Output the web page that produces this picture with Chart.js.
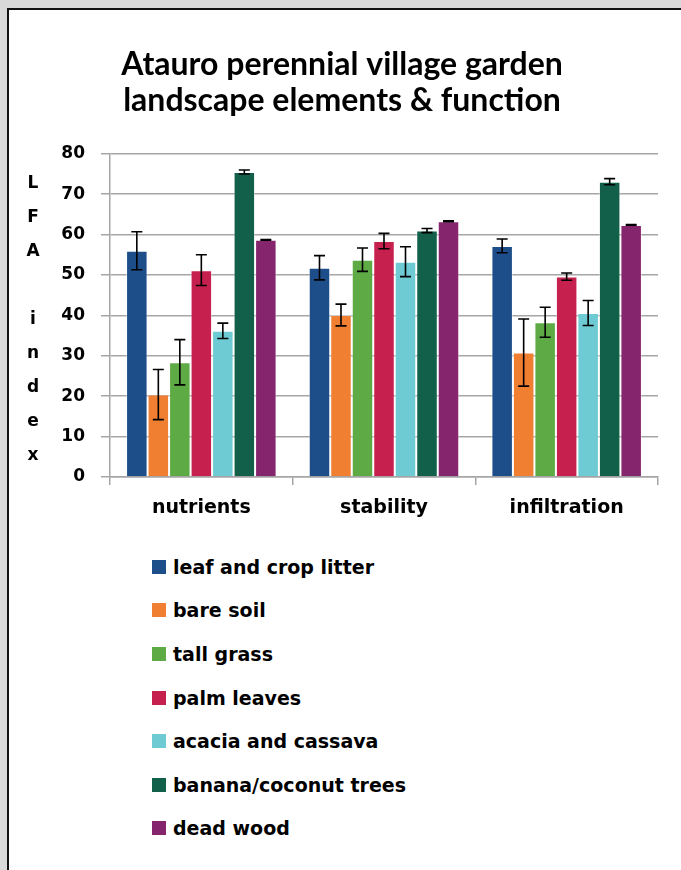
<!DOCTYPE html>
<html lang="en">
<head>
<meta charset="UTF-8">
<title>Atauro perennial village garden landscape elements &amp; function</title>
<script src="https://cdn.jsdelivr.net/npm/chart.js@4.4.0/dist/chart.umd.min.js"></script>
<style>
  body {
    margin: 0;
    width: 681px;
    height: 870px;
    overflow: hidden;
    position: relative;
    background: #d9d9d9;
    font-family: "DejaVu Sans", sans-serif;
  }
  .panel {
    position: absolute;
    left: 7px;
    top: 8px;
    width: 720px;
    height: 900px;
    background: #fff;
    border-left: 2px solid #111;
    border-top: 2px solid #111;
  }
  .chart-box {
    position: absolute;
    left: 0;
    top: 0;
    width: 681px;
    height: 530px;
  }
  #legend {
    position: absolute;
    left: 152px;
    top: 545px;
    margin: 0;
    padding: 0;
    list-style: none;
  }
  #legend li {
    height: 43.6px;
    display: flex;
    align-items: center;
    font-size: 19px;
    font-weight: bold;
    color: #000;
  }
  #legend .swatch {
    width: 14px;
    height: 14px;
    margin-right: 7px;
  }
</style>
</head>
<body>
  <div class="panel"></div>
  <div class="chart-box"><canvas id="myChart" width="681" height="530"></canvas></div>
  <ul id="legend"></ul>

<script>
  // chart data
  var titleLines = ['Atauro perennial village garden', 'landscape elements & function'];
  var yTitleLetters = ['L', 'F', 'A', '', 'i', 'n', 'd', 'e', 'x'];
  var categories = ['nutrients', 'stability', 'infiltration'];
  var yTicks = [0, 10, 20, 30, 40, 50, 60, 70, 80];

  var seriesNames = ['leaf and crop litter', 'bare soil', 'tall grass', 'palm leaves',
                     'acacia and cassava', 'banana/coconut trees', 'dead wood'];
  var seriesColors = ['#1d4e89', '#f07f31', '#5eab46', '#c6214e', '#6ecbd3', '#125f4a', '#85256e'];

  var leafLitter = [56.0, 51.8, 57.2];
  var bareSoil   = [20.4, 40.1, 30.8];
  var tallGrass  = [28.4, 53.8, 38.3];
  var palmLeaves = [51.2, 58.4, 49.6];
  var acacia     = [36.2, 53.3, 40.6];
  var banana     = [75.5, 61.0, 73.1];
  var deadWood   = [58.7, 63.3, 62.4];

  var leafLitterErr = [4.7, 3.0, 1.7];
  var bareSoilErr   = [6.2, 2.7, 8.3];
  var tallGrassErr  = [5.6, 2.9, 3.7];
  var palmLeavesErr = [3.8, 1.9, 0.9];
  var acaciaErr     = [1.9, 3.7, 3.1];
  var bananaErr     = [0.5, 0.5, 0.75];
  var deadWoodErr   = [0.1, 0.1, 0.1];

  var seriesValues = [leafLitter, bareSoil, tallGrass, palmLeaves, acacia, banana, deadWood];
  var seriesErrors = [leafLitterErr, bareSoilErr, tallGrassErr, palmLeavesErr, acaciaErr, bananaErr, deadWoodErr];

  var gridColor = '#a6a6a6';
  var labelFont = '"DejaVu Sans", sans-serif';
  var titleFont = 'Lato, "Open Sans", sans-serif';

  var datasets = [];
  for (var i = 0; i < seriesNames.length; i++) {
    datasets.push({
      label: seriesNames[i],
      data: seriesValues[i],
      backgroundColor: seriesColors[i],
      borderColor: 'rgba(255,255,255,0.45)',
      borderWidth: 1,
      categoryPercentage: 0.824,
      barPercentage: 1.0
    });
  }

  // error bars drawn from the bar elements and the y scale
  var errorBars = {
    id: 'errorBars',
    afterDatasetsDraw: function (chart) {
      var ctx = chart.ctx;
      var yScale = chart.scales.y;
      ctx.save();
      ctx.strokeStyle = '#000';
      ctx.lineWidth = 1.6;
      for (var d = 0; d < chart.data.datasets.length; d++) {
        var meta = chart.getDatasetMeta(d);
        for (var i = 0; i < meta.data.length; i++) {
          var bar = meta.data[i];
          var v = seriesValues[d][i];
          var e = seriesErrors[d][i];
          var top = yScale.getPixelForValue(v + e);
          var bot = yScale.getPixelForValue(v - e);
          var cap = 5.5;
          ctx.beginPath();
          ctx.moveTo(bar.x, top);
          ctx.lineTo(bar.x, bot);
          ctx.moveTo(bar.x - cap, top);
          ctx.lineTo(bar.x + cap, top);
          ctx.moveTo(bar.x - cap, bot);
          ctx.lineTo(bar.x + cap, bot);
          ctx.stroke();
        }
      }
      ctx.restore();
    }
  };

  // stacked y axis title, one letter per line
  var stackedYTitle = {
    id: 'stackedYTitle',
    afterDraw: function (chart) {
      var ctx = chart.ctx;
      var area = chart.chartArea;
      var step = 34;
      var mid = (area.top + area.bottom) / 2 + 4;
      var start = mid - step * (yTitleLetters.length - 1) / 2;
      ctx.save();
      ctx.fillStyle = '#000';
      ctx.font = 'bold 17px ' + labelFont;
      ctx.textAlign = 'center';
      ctx.textBaseline = 'middle';
      for (var i = 0; i < yTitleLetters.length; i++) {
        ctx.fillText(yTitleLetters[i], 33, start + i * step);
      }
      ctx.restore();
    }
  };

  var ctx = document.getElementById('myChart').getContext('2d');
  var myChart = new Chart(ctx, {
    type: 'bar',
    data: { labels: categories, datasets: datasets },
    plugins: [errorBars, stackedYTitle],
    options: {
      responsive: false,
      animation: false,
      layout: { padding: { left: 26, right: 23, top: 0, bottom: 0 } },
      plugins: {
        legend: { display: false },
        tooltip: { enabled: false },
        title: {
          display: true,
          text: titleLines,
          color: '#000',
          font: { family: titleFont, size: 32, weight: 'bold', lineHeight: 1.1 },
          padding: { top: 47.4, bottom: 36 }
        }
      },
      scales: {
        x: {
          grid: {
            drawOnChartArea: false,
            drawTicks: true,
            tickLength: 8,
            color: gridColor,
            lineWidth: 1.5
          },
          border: { color: gridColor, width: 1.5 },
          ticks: {
            color: '#000',
            padding: 12,
            font: { family: labelFont, size: 19, weight: 'bold' }
          },
          afterFit: function (scale) { scale.height = 53; }
        },
        y: {
          min: 0,
          max: 80,
          afterBuildTicks: function (scale) {
            scale.ticks = yTicks.map(function (v) { return { value: v }; });
          },
          grid: {
            color: gridColor,
            lineWidth: 1.5,
            tickLength: 9
          },
          border: { color: gridColor, width: 1.5 },
          ticks: {
            color: '#000',
            padding: 16,
            font: { family: labelFont, size: 17, weight: 'bold' }
          },
          afterFit: function (scale) { scale.width = 84; }
        }
      }
    }
  });

  // legend list, one row per series
  var legend = document.getElementById('legend');
  for (var k = 0; k < seriesNames.length; k++) {
    var li = document.createElement('li');
    var sw = document.createElement('span');
    sw.className = 'swatch';
    sw.style.background = seriesColors[k];
    li.appendChild(sw);
    li.appendChild(document.createTextNode(seriesNames[k]));
    legend.appendChild(li);
  }
</script>
</body>
</html>
